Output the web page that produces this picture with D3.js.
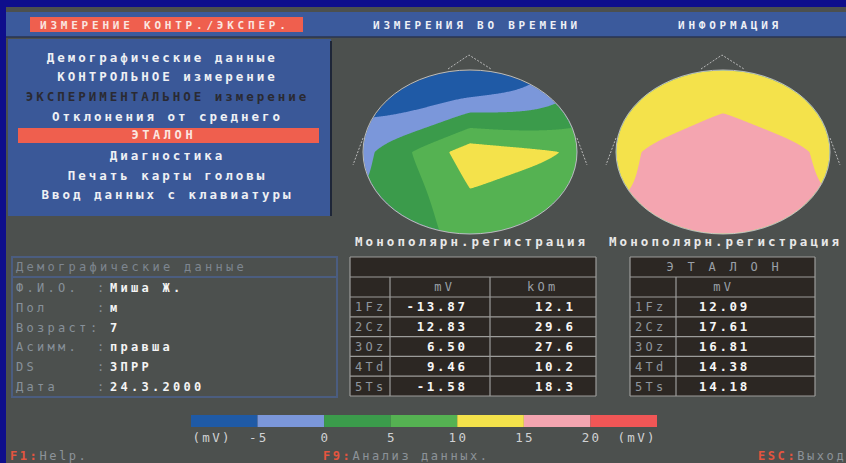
<!DOCTYPE html>
<html>
<head>
<meta charset="utf-8">
<script src="https://cdn.jsdelivr.net/npm/d3@7"></script>
<style>
  body { margin: 0; background: #0e0e8c; overflow: hidden; }
  text { font-family: "DejaVu Sans Mono", monospace; }
</style>
</head>
<body>
<svg id="screen" width="846" height="463"></svg>
<script>
'use strict';
// channel data
var channels = ["1Fz", "2Cz", "3Oz", "4Td", "5Ts"];
var measuredMv = [-13.87, 12.83, 6.50, 9.46, -1.58];
var measuredKOm = [12.1, 29.6, 27.6, 10.2, 18.3];
var etalonMv = [12.09, 17.61, 16.81, 14.38, 14.18];
// rim angle of each electrode (deg, 0 = right ear, 90 = nose); Cz is the centre
var electrodeAngles = [90, null, 270, 0, 180];

// colour scale (mV)
var thresholds = [-5, 0, 5, 10, 15, 20];
var scaleColors = ["#1f5aa6", "#7b97da", "#3b9b4b", "#55b252", "#f4e24b", "#f4a5b0", "#f15656"];
var scaleTickLabels = ["-5", "0", "5", "10", "15", "20"];

// screen texts
var topMenu = ["ИЗМЕРЕНИЕ КОНТР./ЭКСПЕР.", "ИЗМЕРЕНИЯ ВО ВРЕМЕНИ", "ИНФОРМАЦИЯ"];
var menuItems = ["Демографические  данные", "КОНТРОЛЬНОЕ измерение", "ЭКСПЕРИМЕНТАЛЬНОЕ измерение",
  "Отклонения от среднего", "ЭТАЛОН", "Диагностика", "Печать карты головы", "Ввод данных с клавиатуры"];
var demoLabels = ["Ф.И.О.", "Пол", "Возраст", "Асимм.", "DS", "Дата"];
var demoValues = ["Миша Ж.", "м", "7", "правша", "ЗПРР", "24.3.2000"];
var footerKeys = [["F1:", "Help."], ["F9:", " Анализ данных."], ["ESC:", "Выход"]];

var svg = d3.select("#screen");

// monospace text with a fixed advance per character
function put(g, str, x, y, o) {
    o = o || {};
    var fs = o.fs || 12, adv = o.adv || 10.5;
    var ls = adv - 0.602 * fs;
    var w = str.length * adv - ls;
    var x0 = o.anchor === "middle" ? x - w / 2 : o.anchor === "end" ? x - w : x;
    return g.append("text")
        .attr("x", x0).attr("y", y)
        .attr("font-size", fs)
        .attr("letter-spacing", ls)
        .attr("font-weight", o.weight || "normal")
        .attr("fill", o.fill || "#eeeeee")
        .text(str);
}

// background
svg.append("rect").attr("width", 846).attr("height", 463).attr("fill", "#0e0e8c");
svg.append("rect").attr("x", 6).attr("y", 7).attr("width", 840).attr("height", 456).attr("fill", "#4c504e");

// top menu bar
svg.append("rect").attr("x", 6).attr("y", 12).attr("width", 840).attr("height", 25).attr("fill", "#3b5a9c");
svg.append("line").attr("x1", 6).attr("x2", 846).attr("y1", 37).attr("y2", 37).attr("stroke", "#2a3550").attr("stroke-width", 1.5);
svg.append("rect").attr("x", 30).attr("y", 17).attr("width", 273).attr("height", 15).attr("fill", "#ef5f4e");
var topX = [40, 373, 678];
topMenu.forEach(function (s, i) {
    put(svg, s, topX[i], 28.5, { fs: 11, adv: 10.4, weight: "bold", fill: i === 0 ? "#fbe6e0" : "#eef0f6" });
});

// left menu panel
svg.append("rect").attr("x", 8).attr("y", 39).attr("width", 323).attr("height", 177).attr("fill", "#3a5898");
svg.append("line").attr("x1", 331).attr("x2", 331).attr("y1", 41).attr("y2", 216).attr("stroke", "#1e2638").attr("stroke-width", 2);
svg.append("rect").attr("x", 18).attr("y", 128).attr("width", 301).attr("height", 15).attr("fill", "#ef5f4e");
menuItems.forEach(function (s, i) {
    var y = 61.5 + i * 19.7;
    if (i === 2) {
        put(svg, s, 166, y, { fs: 12.5, adv: 10.5, anchor: "middle", weight: "bold", fill: "#2a2a32" });
    } else if (i === 4) {
        put(svg, s, 162, y - 1, { fs: 12, adv: 10.8, anchor: "middle", weight: "bold", fill: "#fbe6e0" });
    } else {
        put(svg, s, 166, y, { fs: 12.5, adv: 10.5, anchor: "middle", weight: "bold", fill: "#eef0f4" });
    }
});

// demographics box
var demo = svg.append("g");
demo.append("rect").attr("x", 12).attr("y", 257).attr("width", 325).attr("height", 140)
    .attr("fill", "none").attr("stroke", "#4b5d80").attr("stroke-width", 2);
demo.append("line").attr("x1", 12).attr("x2", 337).attr("y1", 277).attr("y2", 277)
    .attr("stroke", "#4b5d80").attr("stroke-width", 2);
put(demo, "Демографические данные", 16, 271, { fs: 12, adv: 10.5, fill: "#7e8690" });
var demoY = d3.scaleBand().domain(demoLabels).range([278, 396]);
demoLabels.forEach(function (s, i) {
    var y = demoY(s) + demoY.bandwidth() / 2 + 4.5;
    put(demo, s, 16, y, { fs: 12, adv: 10.5, fill: "#87909a" });
    put(demo, ":", s === "Возраст" ? 90 : 97, y, { fs: 12, adv: 10.5, fill: "#87909a" });
    put(demo, demoValues[i], 110, y, { fs: 12, adv: 10.5, fill: "#f4f4f4", weight: "bold" });
});

// head maps: planar interpolation between Cz and the two rim electrodes of each
// quadrant near the centre, angular interpolation along the rim towards the edge
function drawHead(cx, cy, vals) {
    var rx = 107, ry = 82;
    var w = 2 * rx + 2, h = 2 * ry + 2;
    var cz = vals[1];
    var rim = [0, 2, 3, 4].map(function (i) { return { a: electrodeAngles[i], v: vals[i] }; })
        .sort(function (p, q) { return p.a - q.a; });
    rim.push({ a: rim[0].a + 360, v: rim[0].v });
    var rimValue = d3.scaleLinear().domain(rim.map(function (d) { return d.a; })).range(rim.map(function (d) { return d.v; }));

    var grid = new Float64Array(w * h);
    for (var j = 0; j < h; j++) {
        for (var i = 0; i < w; i++) {
            var nx = (i + 0.5 - w / 2) / rx, ny = -(j + 0.5 - h / 2) / ry;
            var r = Math.sqrt(nx * nx + ny * ny);
            var a = Math.atan2(ny, nx) * 180 / Math.PI;
            if (a < 0) a += 360;
            var polar = cz + r * (rimValue(a) - cz);
            var k = Math.min(3, Math.floor(a / 90));
            var a0 = rim[k], a1 = rim[k + 1];
            var p = nx * Math.cos(a0.a * Math.PI / 180) + ny * Math.sin(a0.a * Math.PI / 180);
            var q = nx * Math.cos(a1.a * Math.PI / 180) + ny * Math.sin(a1.a * Math.PI / 180);
            var planar = cz + p * (a0.v - cz) + q * (a1.v - cz);
            var t = Math.min(1, r);
            t = t * t;
            grid[j * w + i] = (1 - t) * planar + t * polar;
        }
    }
    var bands = d3.contours().size([w, h]).thresholds(thresholds)(grid);
    var path = d3.geoPath(d3.geoIdentity().translate([cx - w / 2, cy - h / 2]));

    var id = "clip" + Math.round(cx);
    svg.append("clipPath").attr("id", id)
        .append("ellipse").attr("cx", cx).attr("cy", cy).attr("rx", rx - 0.5).attr("ry", ry - 0.5);
    var g = svg.append("g").attr("clip-path", "url(#" + id + ")");
    g.append("ellipse").attr("cx", cx).attr("cy", cy).attr("rx", rx).attr("ry", ry).attr("fill", scaleColors[0]);
    g.selectAll("path").data(bands).enter().append("path")
        .attr("d", function (d) { return path(d) || null; })
        .attr("fill", function (d, n) { return scaleColors[n + 1]; });

    svg.append("ellipse").attr("cx", cx).attr("cy", cy).attr("rx", rx).attr("ry", ry)
        .attr("fill", "none").attr("stroke", "#d8d8d8").attr("stroke-width", 0.8);
    // nose and ears
    var deco = svg.append("g").attr("fill", "none").attr("stroke", "#c4c4c4")
        .attr("stroke-width", 0.9).attr("stroke-dasharray", "2,1.5");
    deco.append("polyline").attr("points", [[cx - 22, cy - 83], [cx - 1, cy - 97], [cx + 21, cy - 83]].join(" "));
    deco.append("line").attr("x1", cx - rx).attr("y1", cy - 14).attr("x2", cx - rx - 10).attr("y2", cy + 13);
    deco.append("line").attr("x1", cx + rx).attr("y1", cy - 14).attr("x2", cx + rx + 10).attr("y2", cy + 13);
}
drawHead(470, 152, measuredMv);
drawHead(723, 152, etalonMv);

put(svg, "Монополярн.регистрация", 355, 246, { fs: 12.5, adv: 10.6, weight: "bold", fill: "#e8e8e8" });
put(svg, "Монополярн.регистрация", 609, 246, { fs: 12.5, adv: 10.6, weight: "bold", fill: "#e8e8e8" });

// tables
var rowY = d3.scaleBand().domain(channels).range([297, 396]);
function drawTable(x0, x1, colEdges, title, heads, cols) {
    var t = svg.append("g");
    t.append("rect").attr("x", x0).attr("y", 257).attr("width", x1 - x0).attr("height", 139).attr("fill", "#2c2723");
    var lines = t.append("g").attr("stroke", "#9c9c9a").attr("stroke-width", 1.2);
    [257, 277].concat(channels.map(function (c) { return rowY(c); }), [396]).forEach(function (y) {
        lines.append("line").attr("x1", x0).attr("x2", x1).attr("y1", y).attr("y2", y);
    });
    [x0, x1].forEach(function (x) {
        lines.append("line").attr("x1", x).attr("x2", x).attr("y1", 257).attr("y2", 396);
    });
    colEdges.forEach(function (x) {
        lines.append("line").attr("x1", x).attr("x2", x).attr("y1", 277).attr("y2", 396);
    });
    if (title) put(t, title, (x0 + x1) / 2, 271, { fs: 12, adv: 10.5, anchor: "middle", fill: "#9aa0a8" });
    heads.forEach(function (hd) {
        put(t, hd.text, hd.x, 291, { fs: 12, adv: 10.5, anchor: "middle", fill: "#9aa0a8" });
    });
    channels.forEach(function (c, i) {
        var y = rowY(c) + rowY.bandwidth() / 2 + 4.5;
        put(t, c, x0 + 5, y, { fs: 12, adv: 10.5, fill: "#8f969e" });
        cols.forEach(function (col) {
            put(t, col.fmt(col.values[i]), col.x, y, { fs: 12.5, adv: 10.2, anchor: col.anchor, fill: "#f6f6f6", weight: "bold" });
        });
    });
}
drawTable(350, 596, [390, 490], "", [{ text: "mV", x: 443 }, { text: "kOm", x: 541 }], [
    { values: measuredMv, x: 465, anchor: "end", fmt: function (v) { return v.toFixed(2); } },
    { values: measuredKOm, x: 573, anchor: "end", fmt: function (v) { return v.toFixed(1); } }
]);
drawTable(630, 815, [676], "Э Т А Л О Н", [{ text: "mV", x: 722 }], [
    { values: etalonMv, x: 699, anchor: "start", fmt: function (v) { return v.toFixed(2); } }
]);

// colour scale bar
var xs = d3.scaleLinear().domain([-10, 25]).range([191, 657]);
var bins = d3.range(-10, 25, 5);
svg.append("g").selectAll("rect").data(bins).enter().append("rect")
    .attr("x", function (d) { return xs(d); })
    .attr("y", 415)
    .attr("width", function (d) { return xs(d + 5) - xs(d); })
    .attr("height", 12)
    .attr("fill", function (d, i) { return scaleColors[i]; });
thresholds.forEach(function (t, i) {
    put(svg, scaleTickLabels[i], xs(t), 442, { fs: 12.5, adv: 9.8, anchor: "middle", fill: "#d0d2d4" });
});
put(svg, "(mV)", xs(-10) + 20, 442, { fs: 12.5, adv: 9.8, anchor: "middle", fill: "#d0d2d4" });
put(svg, "(mV)", xs(25) - 21, 442, { fs: 12.5, adv: 9.8, anchor: "middle", fill: "#d0d2d4" });

// footer
var footX = [10, 323, 758];
footerKeys.forEach(function (k, i) {
    put(svg, k[0], footX[i], 460, { fs: 12, adv: 9.8, weight: "bold", fill: "#e4553f" });
    put(svg, k[1], footX[i] + k[0].length * 9.8, 460, { fs: 12, adv: 9.8, fill: "#8d9399" });
});
</script>
</body>
</html>
